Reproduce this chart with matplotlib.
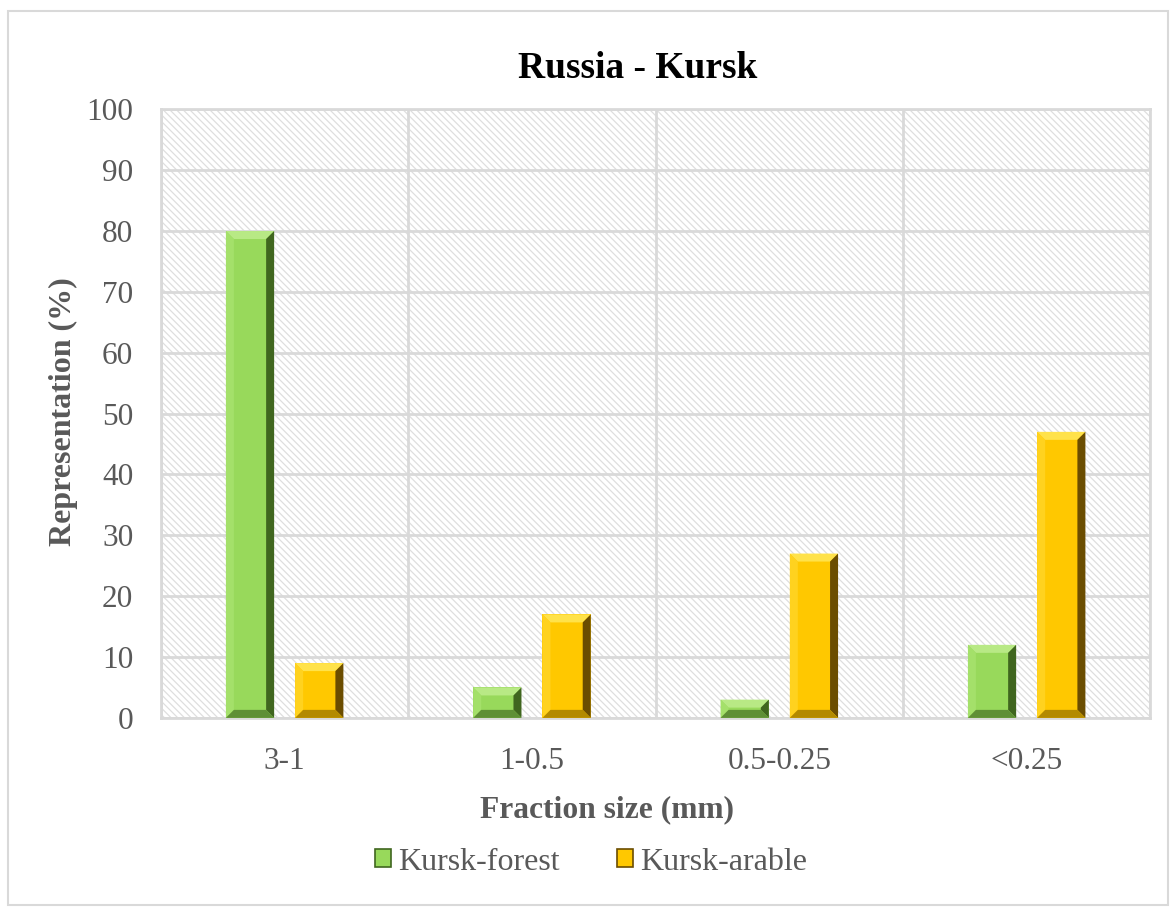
import numpy as np
import matplotlib.pyplot as plt
from matplotlib.patches import Polygon, Rectangle, Patch

# data
categories = ['3-1', '1-0.5', '0.5-0.25', '<0.25']
forest = [80, 5, 3, 12]
arable = [9, 17, 27, 47]
series_names = ['Kursk-forest', 'Kursk-arable']

plt.rcParams['font.family'] = ['Liberation Serif', 'DejaVu Serif']
plt.rcParams['hatch.linewidth'] = 0.9
plt.rcParams['hatch.color'] = '#d9d9d9'

fig = plt.figure(figsize=(11.75, 9.11), dpi=100)
ax = fig.add_axes([0.137, 0.212, 0.842, 0.668])

ax.set_xlim(-0.5, 3.5)
ax.set_ylim(0, 100)

# hatched plot background
ax.patch.set_facecolor('white')
bg = Rectangle((0, 0), 1, 1, transform=ax.transAxes, facecolor='white',
               edgecolor='#dedede', hatch='\\\\\\\\\\', linewidth=0, zorder=0)
ax.add_patch(bg)

# grid
ax.set_yticks(np.arange(0, 101, 10))
ax.set_xticks(np.arange(len(categories)))
ax.set_xticks(np.arange(-0.5, len(categories), 1), minor=True)
ax.grid(axis='y', which='major', color='#d9d9d9', linewidth=2, zorder=1)
ax.grid(axis='x', which='minor', color='#d9d9d9', linewidth=2, zorder=1)
ax.set_axisbelow(True)
ax.tick_params(which='both', length=0)
ax.set_xticklabels(categories, fontsize=22.5, color='#595959')
ax.tick_params(axis='x', pad=21)
ax.tick_params(axis='y', pad=20, labelsize=22.5, labelcolor='#595959')
for s in ax.spines.values():
    s.set_color('#d9d9d9')
    s.set_linewidth(2)

fig.text(638 / 1175, 1 - 68 / 911, 'Russia - Kursk', fontsize=27,
         fontweight='bold', ha='center', va='center')
fig.text(607 / 1175, 1 - 810 / 911, 'Fraction size (mm)', fontsize=22.7,
         fontweight='bold', color='#595959', ha='center', va='center')
fig.text(63 / 1175, 1 - 412 / 911, 'Representation (%)', fontsize=23,
         fontweight='bold', color='#595959', ha='center', va='center',
         rotation=90)

x = np.arange(len(categories))
width = 0.195
offset = 0.14

styles = {
    'Kursk-forest': dict(main='#98d95b', top='#b8e985', left='#a4e06a',
                         right='#40661f', bottom='#5f8f36'),
    'Kursk-arable': dict(main='#ffc800', top='#ffe24a', left='#ffd21f',
                         right='#6b4d00', bottom='#b38a00'),
}

# pixel -> data scale for the bevel
fig.canvas.draw()
inv = ax.transData.inverted()
p0 = inv.transform((0, 0))
p1 = inv.transform((8, 8))
bx = abs(p1[0] - p0[0])
by = abs(p1[1] - p0[1])


def bevel_bar(xc, h, st):
    x0 = xc - width / 2
    x1 = xc + width / 2
    ax.bar(xc, h, width, color=st['main'], edgecolor='none', zorder=3)
    b = min(by, h / 2)
    c = min(bx, width / 2)
    facets = [
        ([(x0, h), (x1, h), (x1 - c, h - b), (x0 + c, h - b)], st['top']),
        ([(x0, 0), (x0, h), (x0 + c, h - b), (x0 + c, b)], st['left']),
        ([(x1, 0), (x1, h), (x1 - c, h - b), (x1 - c, b)], st['right']),
        ([(x0, 0), (x1, 0), (x1 - c, b), (x0 + c, b)], st['bottom']),
    ]
    for pts, col in facets:
        ax.add_patch(Polygon(pts, closed=True, facecolor=col,
                             edgecolor='none', zorder=4))


for i in range(len(categories)):
    bevel_bar(x[i] - offset, forest[i], styles['Kursk-forest'])
    bevel_bar(x[i] + offset, arable[i], styles['Kursk-arable'])

handles = [Patch(facecolor=styles[n]['main'], edgecolor=styles[n]['right'],
                 linewidth=1.2) for n in series_names]
leg = fig.legend(handles, series_names, loc='center', ncol=2,
                 bbox_to_anchor=(591 / 1175, 1 - 862 / 911), frameon=False,
                 fontsize=23, handlelength=0.5, handleheight=0.5,
                 handletextpad=0.22, columnspacing=1.8)
for t in leg.get_texts():
    t.set_color('#595959')

# outer chart border
fig.patches.append(Rectangle((8 / 1175, 6 / 911), 1160 / 1175, 894 / 911,
                             transform=fig.transFigure, fill=False,
                             edgecolor='#d9d9d9', linewidth=1.5))

plt.savefig('out.png', dpi=100)
plt.close()
